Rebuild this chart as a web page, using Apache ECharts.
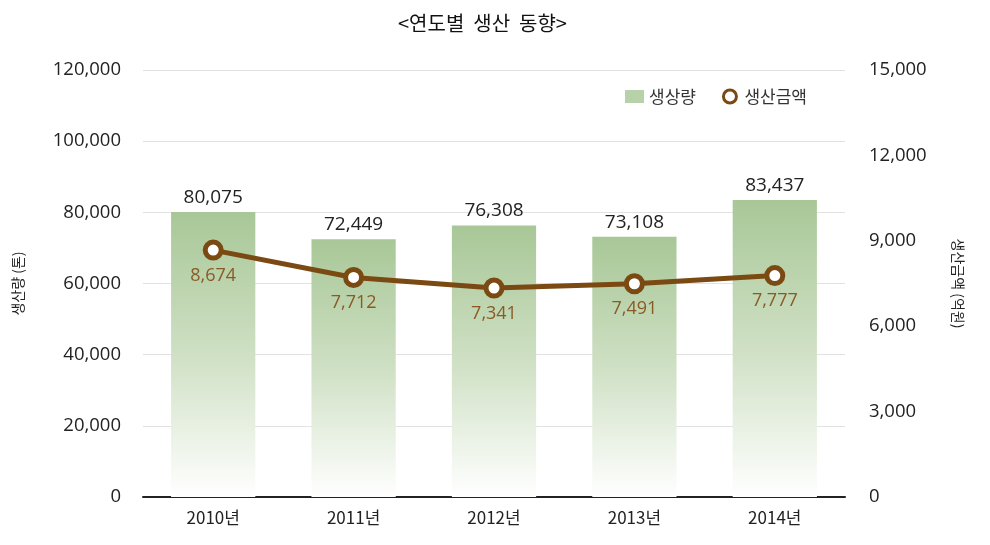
<!DOCTYPE html>
<html><head><meta charset="utf-8">
<script src="https://cdn.jsdelivr.net/npm/echarts@6/dist/echarts.min.js"></script>
<style>html,body{margin:0;padding:0;background:#fff}#c{width:990px;height:545px}</style>
</head><body><div id="c"></div>
<script>
const categories = ['2010년','2011년','2012년','2013년','2014년'];
const production = [80075, 72449, 76308, 73108, 83437];
const amount = [8674, 7712, 7341, 7491, 7777];
const leftTicks = [0, 20000, 40000, 60000, 80000, 100000, 120000];
const rightTicks = [0, 3000, 6000, 9000, 12000, 15000];

const font = '"Open Sans", "Noto Sans CJK KR", sans-serif';
const cjk = '"Noto Sans CJK KR", sans-serif';
const chart = echarts.init(document.getElementById('c'));
chart.setOption({
  animation: false,
  textStyle: { fontFamily: font },
  title: {
    text: '<연도별  생산  동향>', left: 393, top: 8,
    textStyle: { fontSize: 20, fontWeight: 'normal', color: '#111', fontFamily: cjk }
  },
  legend: {
    right: 178, top: 83, itemGap: 26, itemWidth: 19, itemHeight: 13,
    textStyle: { fontSize: 17, color: '#333', fontFamily: cjk },
    data: [
      { name: '생상량', icon: 'rect', itemStyle: { color: '#b7d1a8' } },
      { name: '생산금액', icon: 'circle', itemStyle: { color: '#fff', borderColor: '#7a4a12', borderWidth: 3 } }
    ]
  },
  grid: { left: 143, right: 145, top: 70, bottom: 48 },
  xAxis: {
    type: 'category', data: categories,
    axisLine: { lineStyle: { color: '#222', width: 2 } },
    axisTick: { show: false },
    axisLabel: { fontSize: 17, color: '#222', margin: 12, fontFamily: cjk }
  },
  yAxis: [
    {
      type: 'value', min: 0, max: 120000, interval: 20000,
      name: '생산량 (톤)', nameLocation: 'middle', nameGap: 118, nameRotate: 90,
      nameTextStyle: { fontSize: 14, color: '#222', fontFamily: cjk },
      axisLine: { show: false }, axisTick: { show: false },
      axisLabel: { fontSize: 18.5, color: '#222', margin: 22,
        formatter: v => v.toLocaleString('en-US') },
      splitLine: { lineStyle: { color: '#e2e2e2' } }
    },
    {
      type: 'value', min: 0, max: 15000, interval: 3000,
      name: '생산금액 (억원)', nameLocation: 'middle', nameGap: 106, nameRotate: -90,
      nameTextStyle: { fontSize: 14, color: '#222', fontFamily: cjk },
      axisLine: { show: false }, axisTick: { show: false },
      axisLabel: { fontSize: 18.5, color: '#222', margin: 24,
        formatter: v => v.toLocaleString('en-US') },
      splitLine: { show: false }
    }
  ],
  series: [
    {
      name: '생상량', type: 'bar', data: production, barWidth: '60%',
      itemStyle: {
        color: new echarts.graphic.LinearGradient(0, 0, 0, 1, [
          { offset: 0, color: '#a8c797' },
          { offset: 0.5, color: '#cfe0c4' },
          { offset: 1, color: '#ffffff' }
        ])
      },
      label: { show: true, position: 'top', distance: 5, fontSize: 19, color: '#222',
        formatter: p => p.value.toLocaleString('en-US') }
    },
    {
      name: '생산금액', type: 'line', yAxisIndex: 1, data: amount,
      symbol: 'circle', symbolSize: 16,
      lineStyle: { color: '#7a4a12', width: 5 },
      itemStyle: { color: '#fff', borderColor: '#7a4a12', borderWidth: 5 },
      label: { show: true, position: 'bottom', distance: 6, fontSize: 18, color: '#8a5a25',
        formatter: p => p.value.toLocaleString('en-US') },
      z: 5
    }
  ]
});
</script></body></html>
